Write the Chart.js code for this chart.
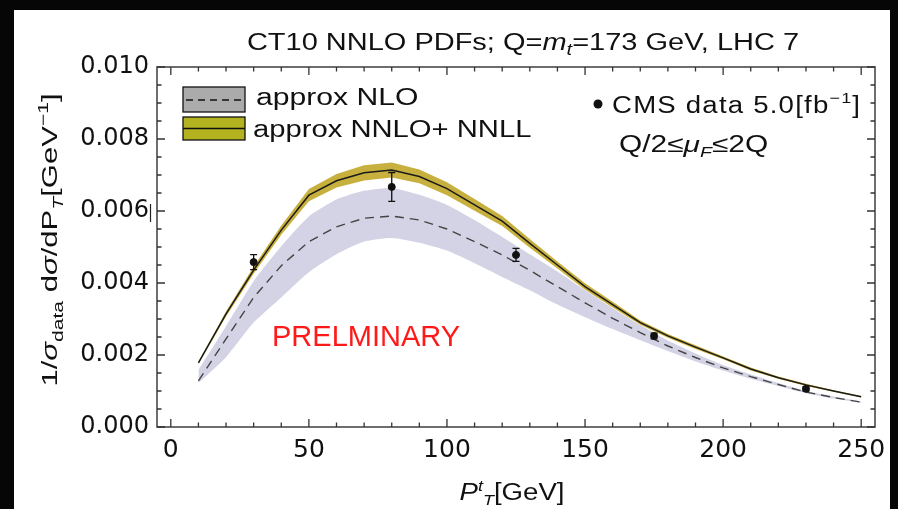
<!DOCTYPE html>
<html><head><meta charset="utf-8">
<script src="https://cdn.jsdelivr.net/npm/chart.js@4.4.1/dist/chart.umd.min.js"></script>
<style>html,body{margin:0;padding:0;background:#000;overflow:hidden}canvas{display:block}</style>
</head><body>
<canvas id="c" width="898" height="509"></canvas>
<script>
// ---------- data ----------
const ptGrid      = [10,20,30,40,50,60,70,80,90,100,110,120,130,140,150,160,170,180,190,200,210,220,230,240,250];
const nnloCentral = [0.00178,0.00314,0.00436,0.00547,0.00644,0.00684,0.00706,0.00714,0.00696,0.00662,0.00617,0.00572,0.00510,0.00450,0.00390,0.00340,0.00290,0.00253,0.00222,0.00192,0.00161,0.00137,0.00117,0.00100,0.00084];
const nnloUpper   = [0.00181,0.00321,0.00446,0.00560,0.00661,0.00703,0.00727,0.00735,0.00715,0.00680,0.00633,0.00586,0.00522,0.00460,0.00399,0.00348,0.00296,0.00258,0.00227,0.00196,0.00165,0.00140,0.00120,0.00102,0.00086];
const nnloLower   = [0.00175,0.00307,0.00426,0.00534,0.00627,0.00665,0.00685,0.00693,0.00677,0.00644,0.00601,0.00558,0.00498,0.00440,0.00381,0.00332,0.00284,0.00248,0.00217,0.00188,0.00157,0.00134,0.00114,0.00098,0.00082];
const nloCentral  = [0.00128,0.00245,0.00360,0.00448,0.00515,0.00556,0.00580,0.00586,0.00575,0.00550,0.00515,0.00478,0.00435,0.00390,0.00345,0.00302,0.00262,0.00225,0.00193,0.00164,0.00140,0.00118,0.00097,0.00082,0.00069];
const nloUpper    = [0.00158,0.00280,0.00405,0.00502,0.00585,0.00632,0.00656,0.00664,0.00645,0.00617,0.00575,0.00528,0.00480,0.00432,0.00380,0.00330,0.00283,0.00240,0.00204,0.00172,0.00146,0.00122,0.00100,0.00085,0.00071];
const nloLower    = [0.00122,0.00194,0.00290,0.00360,0.00430,0.00480,0.00515,0.00525,0.00512,0.00490,0.00455,0.00417,0.00380,0.00340,0.00305,0.00272,0.00241,0.00211,0.00182,0.00157,0.00134,0.00114,0.00094,0.00079,0.00067];
const cmsPt    = [30,80,125,175,230];
const cmsValue = [0.00458,0.00667,0.00478,0.00253,0.00106];
const cmsError = [0.00021,0.00040,0.00018,0.00008,0.00006];
const xTickValues = [0,50,100,150,200,250];
const yTickValues = [0.000,0.002,0.004,0.006,0.008,0.010];
const xMinorStep = 10, yMinorStep = 0.0005;

const pts = arr => ptGrid.map((x,i)=>({x:x,y:arr[i]}));

// ---------- helpers ----------
const SANS = '"Liberation Sans", Arial, sans-serif';
function richWidth(ctx, segs){
  let w=0; for(const s of segs){ctx.font=(s.it?'italic ':'')+s.size+'px '+SANS; w+=ctx.measureText(s.t).width;} return w;
}
function drawRich(ctx, segs, x, y, align, sx, color, spacing){
  ctx.save();
  ctx.translate(x,y); ctx.scale(sx||1,1);
  ctx.letterSpacing = spacing||'0px';
  const w = richWidth(ctx,segs);
  let cx = align==='center' ? -w/2 : (align==='right' ? -w : 0);
  ctx.fillStyle = color||'#111'; ctx.textBaseline='alphabetic'; ctx.textAlign='left';
  for(const s of segs){
    ctx.font=(s.it?'italic ':'')+s.size+'px '+SANS;
    ctx.fillText(s.t, cx, s.dy||0);
    cx += ctx.measureText(s.t).width;
  }
  ctx.restore();
}

const decor = {
  id:'decor',
  beforeDraw(chart){
    const ctx=chart.ctx;
    ctx.save();
    ctx.fillStyle='#060606'; ctx.fillRect(0,0,chart.width,chart.height);
    ctx.fillStyle='#ffffff'; ctx.fillRect(14,10,876,499);
    ctx.restore();
  },
  afterDatasetsDraw(chart){
    const ctx=chart.ctx, xs=chart.scales.x, ys=chart.scales.y;
    ctx.save();
    ctx.strokeStyle='#111'; ctx.lineWidth=1.3;
    cmsPt.forEach((p,i)=>{
      const px=xs.getPixelForValue(p);
      const t=ys.getPixelForValue(cmsValue[i]+cmsError[i]);
      const b=ys.getPixelForValue(cmsValue[i]-cmsError[i]);
      ctx.beginPath();
      ctx.moveTo(px,t); ctx.lineTo(px,b);
      ctx.moveTo(px-3.5,t); ctx.lineTo(px+3.5,t);
      ctx.moveTo(px-3.5,b); ctx.lineTo(px+3.5,b);
      ctx.stroke();
    });
    ctx.restore();
  },
  afterDraw(chart){
    const ctx=chart.ctx, xs=chart.scales.x, ys=chart.scales.y, a=chart.chartArea;
    ctx.save();
    // frame
    ctx.strokeStyle='#4a4a4a'; ctx.lineWidth=1.6;
    ctx.strokeRect(a.left,a.top,a.right-a.left,a.bottom-a.top);
    // ticks
    ctx.lineWidth=1.3; ctx.strokeStyle='#333';
    ctx.beginPath();
    for(let v=0; v<=250+1e-9; v+=xMinorStep){
      const px=xs.getPixelForValue(v);
      const L = xTickValues.some(t=>Math.abs(t-v)<1e-9) ? 8 : 4.5;
      ctx.moveTo(px,a.bottom); ctx.lineTo(px,a.bottom-L);
      ctx.moveTo(px,a.top); ctx.lineTo(px,a.top+L);
    }
    for(let k=0; k<=20; k++){
      const v=k*yMinorStep, py=ys.getPixelForValue(v);
      const L = (k%4===0) ? 8 : 4.5;
      ctx.moveTo(a.left,py); ctx.lineTo(a.left+L,py);
      ctx.moveTo(a.right,py); ctx.lineTo(a.right-L,py);
    }
    ctx.stroke();
    // stray cursor mark next to 0.006
    ctx.beginPath(); ctx.lineWidth=1.2; ctx.strokeStyle='#222';
    ctx.moveTo(150.5,204); ctx.lineTo(150.5,222); ctx.stroke();

    // title
    drawRich(ctx,[
      {t:'CT10 NNLO PDFs; Q=',size:23},{t:'m',size:23,it:true},{t:'t',size:16,it:true,dy:5},
      {t:'=173 GeV, LHC 7',size:23}], 523,50,'center',1.26);
    // y title
    ctx.save(); ctx.translate(57,240); ctx.rotate(-Math.PI/2);
    drawRich(ctx,[
      {t:'1/',size:22},{t:'σ',size:22,it:true},{t:'data',size:15,dy:6},{t:' d',size:22},{t:'σ',size:22,it:true},
      {t:'/dP',size:22},{t:'T',size:15,it:true,dy:6},{t:'[GeV',size:22},{t:'−1',size:15,dy:-9},{t:']',size:22}],0,0,'center',1.41);
    ctx.restore();
    // x title
    drawRich(ctx,[{t:'P',size:23,it:true},{t:'t',size:15,it:true,dy:-9},{t:'T',size:15,it:true,dy:5},{t:'[GeV]',size:23}],512,500,'center',1.2);

    // legend swatches
    ctx.lineWidth=1.3; ctx.strokeStyle='#111';
    ctx.fillStyle='#ababab'; ctx.fillRect(183,87,62,25); ctx.strokeRect(183,87,62,25);
    ctx.setLineDash([7,5]); ctx.beginPath(); ctx.moveTo(186,100); ctx.lineTo(244,100); ctx.stroke(); ctx.setLineDash([]);
    ctx.fillStyle='#b3b21f'; ctx.fillRect(183,117,62,23); ctx.strokeRect(183,117,62,23);
    ctx.beginPath(); ctx.moveTo(183,128.5); ctx.lineTo(245,128.5); ctx.stroke();
    drawRich(ctx,[{t:'approx NLO',size:23}],256,105,'left',1.31);
    drawRich(ctx,[{t:'approx NNLO+ NNLL',size:23}],253,137,'left',1.27);

    // data legend
    ctx.fillStyle='#111'; ctx.beginPath(); ctx.arc(598,104,4.5,0,Math.PI*2); ctx.fill();
    drawRich(ctx,[{t:'CMS data 5.0[fb',size:23},{t:'−1',size:15,dy:-10},{t:']',size:23}],612,113,'left',1.2,'#111','1px');
    drawRich(ctx,[{t:'Q/2≤',size:23},{t:'μ',size:23,it:true},{t:'F',size:15,it:true,dy:5},{t:'≤2Q',size:23}],619,152,'left',1.3);

    // watermark
    drawRich(ctx,[{t:'PRELMINARY',size:29}],272,346,'left',1.0,'#ff1a1a');
    ctx.restore();
  }
};

new Chart(document.getElementById('c'),{
  type:'line',
  data:{datasets:[
    {label:'NLO upper',order:6,data:pts(nloUpper),fill:'+1',backgroundColor:'rgba(211,211,229,1)',borderWidth:0,pointRadius:0,tension:0.2},
    {label:'NLO lower',order:6,data:pts(nloLower),fill:false,borderWidth:0,pointRadius:0,tension:0.2},
    {label:'NNLO upper',order:5,data:pts(nnloUpper),fill:'+1',backgroundColor:'rgba(200,176,62,1)',borderWidth:0,pointRadius:0,tension:0},
    {label:'NNLO lower',order:5,data:pts(nnloLower),fill:false,borderWidth:0,pointRadius:0,tension:0},
    {label:'approx NLO',order:3,data:pts(nloCentral),fill:false,borderColor:'#444',borderWidth:1.4,borderDash:[9,6],pointRadius:0,tension:0},
    {label:'approx NNLO+NNLL',order:2,data:pts(nnloCentral),fill:false,borderColor:'#1a1a1a',borderWidth:1.5,pointRadius:0,tension:0},
    {label:'CMS data',order:1,type:'scatter',data:cmsPt.map((x,i)=>({x:x,y:cmsValue[i]})),backgroundColor:'#111',borderColor:'#111',pointRadius:3.5,showLine:false}
  ]},
  options:{
    responsive:false, animation:false, devicePixelRatio:1,
    layout:{padding:{left:0,top:67,right:23,bottom:0}},
    plugins:{legend:{display:false},tooltip:{enabled:false},title:{display:false}},
    scales:{
      x:{type:'linear',min:-5,max:255,
        afterBuildTicks:s=>{s.ticks=xTickValues.map(v=>({value:v}));},
        afterFit:s=>{s.height=82;},
        grid:{display:false,drawTicks:false},border:{display:false},
        ticks:{font:{family:'"DejaVu Sans"',size:25},color:'#111',padding:8,maxRotation:0,callback:v=>String(v)}},
      y:{type:'linear',min:0,max:0.010,
        afterBuildTicks:s=>{s.ticks=yTickValues.map(v=>({value:v}));},
        afterFit:s=>{s.width=157;},
        grid:{display:false,drawTicks:false},border:{display:false},
        ticks:{font:{family:'"DejaVu Sans"',size:24},color:'#111',padding:8,callback:v=>Number(v).toFixed(3)}}
    }
  },
  plugins:[decor]
});
</script>
</body></html>
